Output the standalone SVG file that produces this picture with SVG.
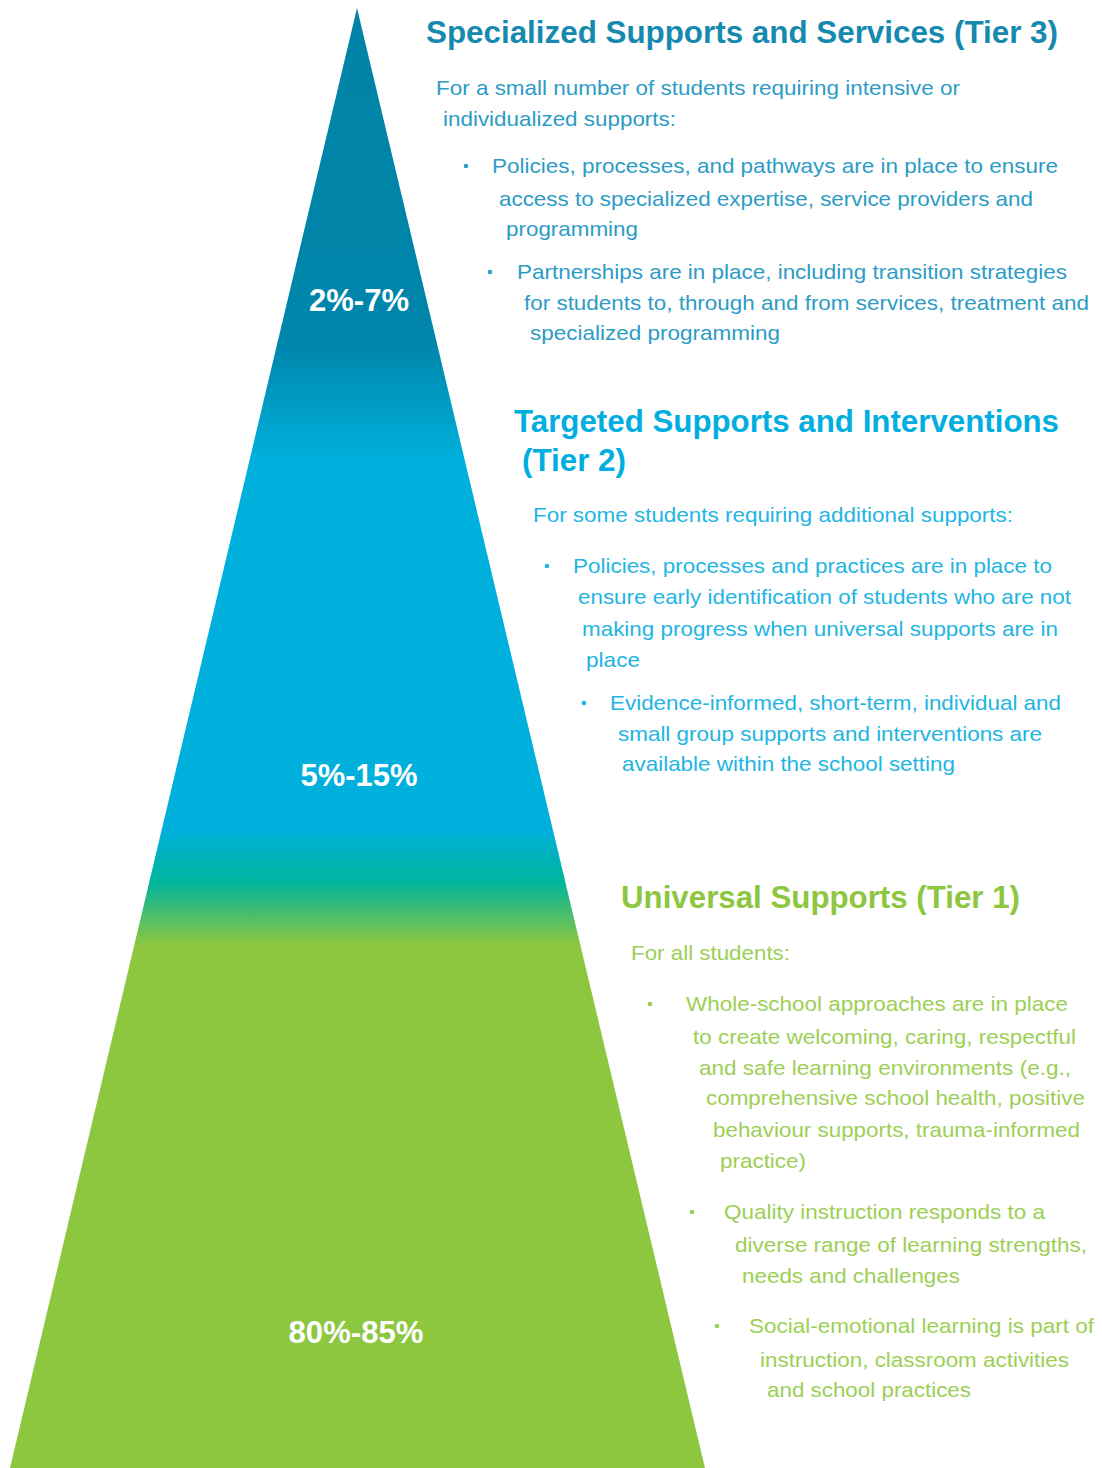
<svg xmlns="http://www.w3.org/2000/svg" width="1102" height="1468" viewBox="0 0 1102 1468">
<defs>
<linearGradient id="pyr" gradientUnits="userSpaceOnUse" x1="0" y1="8" x2="0" y2="1468">
<stop offset="0" stop-color="#0083a6"/>
<stop offset="0.231" stop-color="#0086ab"/>
<stop offset="0.31" stop-color="#00b0dc"/>
<stop offset="0.563" stop-color="#00b0dc"/>
<stop offset="0.598" stop-color="#00b59e"/>
<stop offset="0.642" stop-color="#8dc63f"/>
<stop offset="1" stop-color="#8dc63f"/>
</linearGradient>
<style>
text{font-family:"Liberation Sans",Arial,sans-serif}
.pct{fill:#fff;font-weight:bold;font-size:31px;text-anchor:middle}
.h{font-weight:bold;font-size:31px}
.b{font-size:21px}
.t3h{fill:#168aae}.t3{fill:#2c9cc6}
.t2h{fill:#00aee0}.t2{fill:#22b5e3}
.t1h{fill:#8dc63f}.t1{fill:#9ccf55}
</style>
</defs>
<rect width="1102" height="1468" fill="#fff"/>
<g id="pyramid">
<polygon points="357,8 705,1468 10,1468" fill="url(#pyr)"/>
<text class="pct" x="359" y="311" textLength="100" lengthAdjust="spacingAndGlyphs">2%-7%</text>
<text class="pct" x="359" y="786" textLength="117" lengthAdjust="spacingAndGlyphs">5%-15%</text>
<text class="pct" x="356" y="1343" textLength="135" lengthAdjust="spacingAndGlyphs">80%-85%</text>
</g>
<g id="tier3">
<text class="h t3h" x="426" y="43" textLength="632" lengthAdjust="spacingAndGlyphs">Specialized Supports and Services (Tier 3)</text>
<g class="b t3">
<text x="436" y="95" textLength="524" lengthAdjust="spacingAndGlyphs">For a small number of students requiring intensive or</text>
<text x="443" y="126" textLength="233" lengthAdjust="spacingAndGlyphs">individualized supports:</text>
<circle cx="466" cy="166" r="2.3"/>
<text x="492" y="173" textLength="566" lengthAdjust="spacingAndGlyphs">Policies, processes, and pathways are in place to ensure</text>
<text x="499" y="206" textLength="534" lengthAdjust="spacingAndGlyphs">access to specialized expertise, service providers and</text>
<text x="506" y="236" textLength="132" lengthAdjust="spacingAndGlyphs">programming</text>
<circle cx="490" cy="272" r="2.3"/>
<text x="517" y="279" textLength="550" lengthAdjust="spacingAndGlyphs">Partnerships are in place, including transition strategies</text>
<text x="524" y="310" textLength="565" lengthAdjust="spacingAndGlyphs">for students to, through and from services, treatment and</text>
<text x="530" y="340" textLength="250" lengthAdjust="spacingAndGlyphs">specialized programming</text>
</g>
</g>
<g id="tier2">
<text class="h t2h" x="514" y="432" textLength="545" lengthAdjust="spacingAndGlyphs">Targeted Supports and Interventions</text>
<text class="h t2h" x="522" y="471" textLength="104" lengthAdjust="spacingAndGlyphs">(Tier 2)</text>
<g class="b t2">
<text x="533" y="522" textLength="480" lengthAdjust="spacingAndGlyphs">For some students requiring additional supports:</text>
<circle cx="547" cy="566" r="2.3"/>
<text x="573" y="573" textLength="479" lengthAdjust="spacingAndGlyphs">Policies, processes and practices are in place to</text>
<text x="578" y="604" textLength="493" lengthAdjust="spacingAndGlyphs">ensure early identification of students who are not</text>
<text x="582" y="636" textLength="476" lengthAdjust="spacingAndGlyphs">making progress when universal supports are in</text>
<text x="586" y="667" textLength="54" lengthAdjust="spacingAndGlyphs">place</text>
<circle cx="584" cy="703" r="2.3"/>
<text x="610" y="710" textLength="451" lengthAdjust="spacingAndGlyphs">Evidence-informed, short-term, individual and</text>
<text x="618" y="741" textLength="424" lengthAdjust="spacingAndGlyphs">small group supports and interventions are</text>
<text x="622" y="771" textLength="333" lengthAdjust="spacingAndGlyphs">available within the school setting</text>
</g>
</g>
<g id="tier1">
<text class="h t1h" x="621" y="908" textLength="399" lengthAdjust="spacingAndGlyphs">Universal Supports (Tier 1)</text>
<g class="b t1">
<text x="631" y="960" textLength="159" lengthAdjust="spacingAndGlyphs">For all students:</text>
<circle cx="650" cy="1004" r="2.3"/>
<text x="686" y="1011" textLength="382" lengthAdjust="spacingAndGlyphs">Whole-school approaches are in place</text>
<text x="693" y="1044" textLength="383" lengthAdjust="spacingAndGlyphs">to create welcoming, caring, respectful</text>
<text x="699" y="1075" textLength="372" lengthAdjust="spacingAndGlyphs">and safe learning environments (e.g.,</text>
<text x="706" y="1105" textLength="379" lengthAdjust="spacingAndGlyphs">comprehensive school health, positive</text>
<text x="713" y="1137" textLength="367" lengthAdjust="spacingAndGlyphs">behaviour supports, trauma-informed</text>
<text x="720" y="1168" textLength="86" lengthAdjust="spacingAndGlyphs">practice)</text>
<circle cx="692" cy="1212" r="2.3"/>
<text x="724" y="1219" textLength="321" lengthAdjust="spacingAndGlyphs">Quality instruction responds to a</text>
<text x="735" y="1252" textLength="352" lengthAdjust="spacingAndGlyphs">diverse range of learning strengths,</text>
<text x="742" y="1283" textLength="218" lengthAdjust="spacingAndGlyphs">needs and challenges</text>
<circle cx="717" cy="1326" r="2.3"/>
<text x="749" y="1333" textLength="345" lengthAdjust="spacingAndGlyphs">Social-emotional learning is part of</text>
<text x="760" y="1367" textLength="309" lengthAdjust="spacingAndGlyphs">instruction, classroom activities</text>
<text x="767" y="1397" textLength="204" lengthAdjust="spacingAndGlyphs">and school practices</text>
</g>
</g>
</svg>
